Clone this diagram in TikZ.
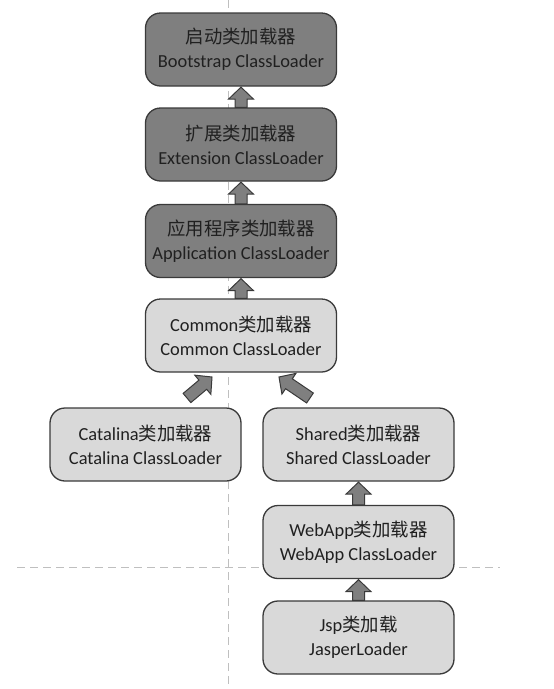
\documentclass[tikz,border=0pt]{standalone}
\usepackage{fontspec}
\setmainfont{Carlito}
\newfontfamily\cjk{Noto Sans CJK SC}
\usetikzlibrary{calc}
\definecolor{darkbox}{HTML}{7F7F7F}
\definecolor{lightbox}{HTML}{D9D9D9}
\definecolor{edge}{HTML}{3A3A3A}
\definecolor{txt}{HTML}{202020}
\definecolor{guide}{HTML}{BFBFBF}
\begin{document}
\begin{tikzpicture}[x=1pt,y=-1pt,
  box/.style={draw=edge, line width=1.3pt, rounded corners=15pt,
    minimum width=191pt, minimum height=73pt, inner sep=0pt,
    align=center, text=txt, font=\fontsize{18.4}{24}\selectfont},
  darkb/.style={box, fill=darkbox},
  lightb/.style={box, fill=lightbox},
  guideline/.style={draw=guide, line width=0.9pt, dash pattern=on 8pt off 5pt},
  blockarrow/.style={draw=edge, fill=darkbox, line width=1pt, line join=miter,
    to path={
      ($(\tikztotarget)!12pt!(\tikztostart)$) coordinate (bah)
      ($(\tikztostart)!6pt!90:(\tikztotarget)$)
      -- ($(bah)!6pt!90:(\tikztotarget)$)
      -- ($(bah)!12.5pt!90:(\tikztotarget)$)
      -- (\tikztotarget)
      -- ($(bah)!12.5pt!-90:(\tikztotarget)$)
      -- ($(bah)!6pt!-90:(\tikztotarget)$)
      -- ($(\tikztostart)!6pt!-90:(\tikztotarget)$) -- cycle
    }}
]
\useasboundingbox (0,0) rectangle (554,689);
% guide lines
\draw[guideline] (228,0) -- (228,689);
\draw[guideline] (17,567) -- (500,567);

\node[darkb] (boot) at (241,49.5) {{\cjk 启动类加载器}\\Bootstrap ClassLoader};
\node[darkb] (ext) at (241,144.5) {{\cjk 扩展类加载器}\\Extension ClassLoader};
\node[darkb] (app) at (241,241) {{\cjk 应用程序类加载器}\\Application ClassLoader};
\node[lightb] (common) at (241,335.5) {Common{\cjk 类加载器}\\Common ClassLoader};
\node[lightb] (cat) at (145.5,444.5) {Catalina{\cjk 类加载器}\\Catalina ClassLoader};
\node[lightb] (shared) at (358.5,444.5) {Shared{\cjk 类加载器}\\Shared ClassLoader};
\node[lightb] (web) at (358.5,542) {WebApp{\cjk 类加载器}\\WebApp ClassLoader};
\node[lightb] (jsp) at (358.5,637.5) {Jsp{\cjk 类加载}\\JasperLoader};

\draw[blockarrow] (ext.north) to ($(boot.south)+(0,0.5)$);
\draw[blockarrow] (app.north) to ($(ext.south)+(0,0.5)$);
\draw[blockarrow] (common.north) to ($(app.south)+(0,0.5)$);
\draw[blockarrow] (web.north) to ($(shared.south)+(0,0.5)$);
\draw[blockarrow] (jsp.north) to ($(web.south)+(0,0.5)$);

\coordinate (c1s) at (187,398);
\coordinate (c1e) at (212,377);
\coordinate (c2s) at (310,398);
\coordinate (c2e) at (279,377);
\draw[blockarrow] (c1s) to (c1e);
\draw[blockarrow] (c2s) to (c2e);
\end{tikzpicture}
\end{document}
